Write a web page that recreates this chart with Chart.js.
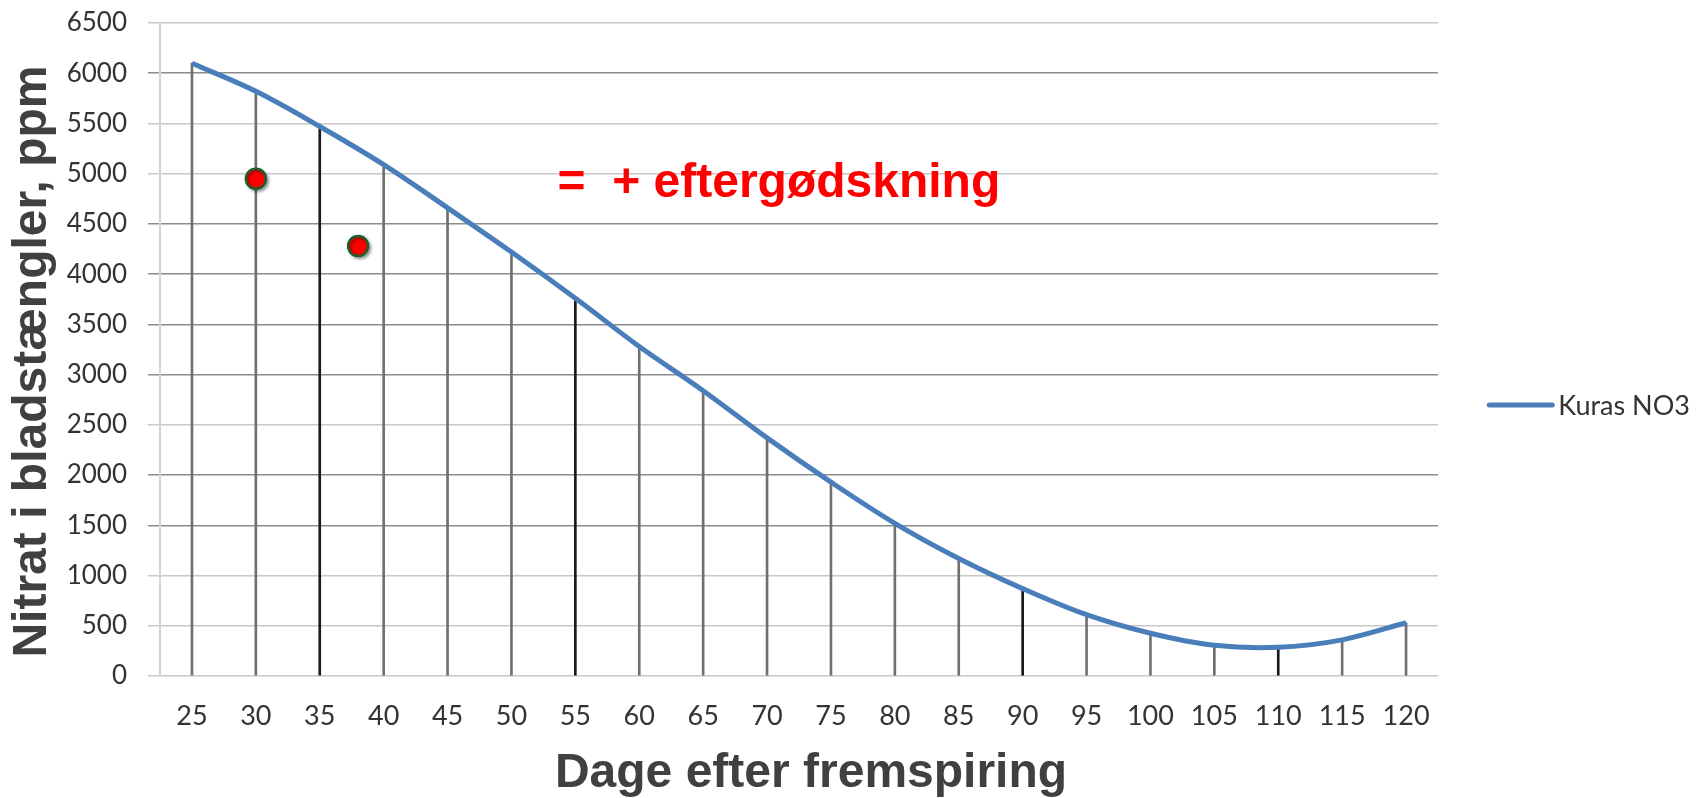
<!DOCTYPE html>
<html lang="da">
<head>
<meta charset="utf-8">
<title>Kuras NO3</title>
<script src="https://cdn.jsdelivr.net/npm/chart.js@4"></script>
<style>
  html, body { margin: 0; padding: 0; background: #fff; }
  #wrap { position: relative; width: 1706px; height: 798px; }
</style>
</head>
<body>
<div id="wrap"><canvas id="nitratChart"></canvas></div>
<script>
const days = [25, 30, 35, 40, 45, 50, 55, 60, 65, 70, 75, 80, 85, 90, 95, 100, 105, 110, 115, 120];
const kurasNO3 = [6100, 5820, 5470, 5090, 4660, 4220, 3760, 3280, 2840, 2370, 1930, 1520, 1170, 870, 610, 425, 305, 285, 360, 530];
const measuredDays = [30, 38];
const measuredNitrat = [4950, 4280];
const yTicks = [0, 500, 1000, 1500, 2000, 2500, 3000, 3500, 4000, 4500, 5000, 5500, 6000, 6500];
const seriesLabel = 'Kuras NO3';
const noteText = '=  + eftergødskning';
const noteDay = 53.6;
const noteValue = 4770;

const lineBlue = '#4a7ebb';
const darkDrops = [35, 55, 90, 110];
const lightGrid = [0, 500, 1000, 2500, 5000, 5500, 6500];

Chart.defaults.font.family = 'Lato';
Chart.defaults.color = '#333';

const curvePoints = days.map((d, i) => ({ x: d, y: kurasNO3[i] }));
const dotPoints = measuredDays.map((d, i) => ({ x: d, y: measuredNitrat[i] }));

// shadow under the red dots
const dotShadow = {
    id: 'dotShadow',
    beforeDatasetDraw(chart, args) {
        if (args.index !== 2) return;
        const ctx = chart.ctx;
        ctx.save();
        ctx.shadowColor = 'rgba(0, 0, 0, 0.35)';
        ctx.shadowOffsetX = 2;
        ctx.shadowOffsetY = 2;
        ctx.shadowBlur = 3;
    },
    afterDatasetDraw(chart, args) {
        if (args.index !== 2) return;
        chart.ctx.restore();
    }
};

// red note next to the dots
const noteLabel = {
    id: 'noteLabel',
    afterDatasetsDraw(chart) {
        const ctx = chart.ctx;
        const x = chart.scales.x.getPixelForValue(noteDay);
        const y = chart.scales.y.getPixelForValue(noteValue);
        ctx.save();
        ctx.font = 'bold 48px "Liberation Sans", Arial, sans-serif';
        ctx.fillStyle = '#ff0000';
        ctx.textAlign = 'left';
        ctx.textBaseline = 'alphabetic';
        ctx.fillText(noteText, x, y);
        ctx.restore();
    }
};

// Excel style legend at the right edge: text flush right, line just before it
const sideLegend = {
    id: 'sideLegend',
    afterDraw(chart) {
        const ctx = chart.ctx;
        const textEnd = chart.width - 16;
        const y0 = chart.height / 2 + 6;
        ctx.save();
        ctx.font = '27px Lato';
        const textStart = textEnd - ctx.measureText(seriesLabel).width;
        ctx.fillStyle = '#333';
        ctx.textAlign = 'left';
        ctx.textBaseline = 'alphabetic';
        ctx.fillText(seriesLabel, textStart, y0 + 10);
        ctx.strokeStyle = lineBlue;
        ctx.lineWidth = 5;
        ctx.lineCap = 'round';
        ctx.beginPath();
        ctx.moveTo(textStart - 69, y0);
        ctx.lineTo(textStart - 6, y0);
        ctx.stroke();
        ctx.restore();
    }
};

const ctx = document.getElementById('nitratChart').getContext('2d');
new Chart(ctx, {
    type: 'line',
    data: {
        datasets: [{
            label: seriesLabel,
            type: 'line',
            data: curvePoints,
            borderColor: lineBlue,
            backgroundColor: lineBlue,
            borderWidth: 5,
            pointRadius: 0,
            tension: 0.35,
            order: 1
        }, {
            label: 'drop',
            type: 'bar',
            data: curvePoints,
            backgroundColor: c => darkDrops.includes(days[c.dataIndex]) ? '#1a1a1a' : '#707070',
            barThickness: 2,
            order: 3
        }, {
            label: 'eftergødskning',
            type: 'scatter',
            data: dotPoints,
            backgroundColor: '#ff0000',
            borderColor: '#1d5e2a',
            borderWidth: 2.5,
            pointRadius: 10,
            order: 0
        }]
    },
    options: {
        responsive: true,
        maintainAspectRatio: false,
        animation: false,
        layout: { padding: { top: 23, right: 268, bottom: 0, left: 0 } },
        plugins: {
            tooltip: { enabled: false },
            legend: { display: false }
        },
        scales: {
            x: {
                type: 'linear',
                min: 22.5,
                max: 122.5,
                offset: false,
                afterBuildTicks: s => { s.ticks = days.map(v => ({ value: v })); },
                afterFit: s => { s.height = 122; s.paddingRight = 0; s.paddingLeft = 0; },
                grid: { display: false, drawTicks: false, offset: false },
                border: { display: false },
                ticks: { autoSkip: false, maxRotation: 0, padding: 24, font: { size: 27 }, color: '#333' },
                title: {
                    display: true,
                    text: '\u2002Dage efter fremspiring',
                    color: '#404040',
                    font: { family: '"Liberation Sans", Arial, sans-serif', size: 48, weight: 'bold', lineHeight: 1 },
                    padding: { top: 0, bottom: 0 }
                }
            },
            y: {
                min: 0,
                max: 6500,
                afterBuildTicks: s => { s.ticks = yTicks.map(v => ({ value: v })); },
                afterFit: s => { s.width = 160; s.paddingTop = 0; s.paddingBottom = 0; },
                grid: {
                    color: c => lightGrid.includes(c.tick && c.tick.value) ? '#c8c8c8' : '#8c8c8c',
                    lineWidth: 1.5,
                    tickLength: 12
                },
                border: { display: true, color: '#d4d4d4', width: 2 },
                ticks: { padding: 21, font: { size: 26 }, color: '#333', callback: v => String(v) },
                title: {
                    display: true,
                    text: 'Nitrat i bladstængler, ppm\u2002',
                    color: '#404040',
                    font: { family: '"Liberation Sans", Arial, sans-serif', size: 48, weight: 'bold', lineHeight: 1.2 },
                    padding: { top: 4, bottom: 0 }
                }
            }
        }
    },
    plugins: [dotShadow, noteLabel, sideLegend]
});
</script>
</body>
</html>
